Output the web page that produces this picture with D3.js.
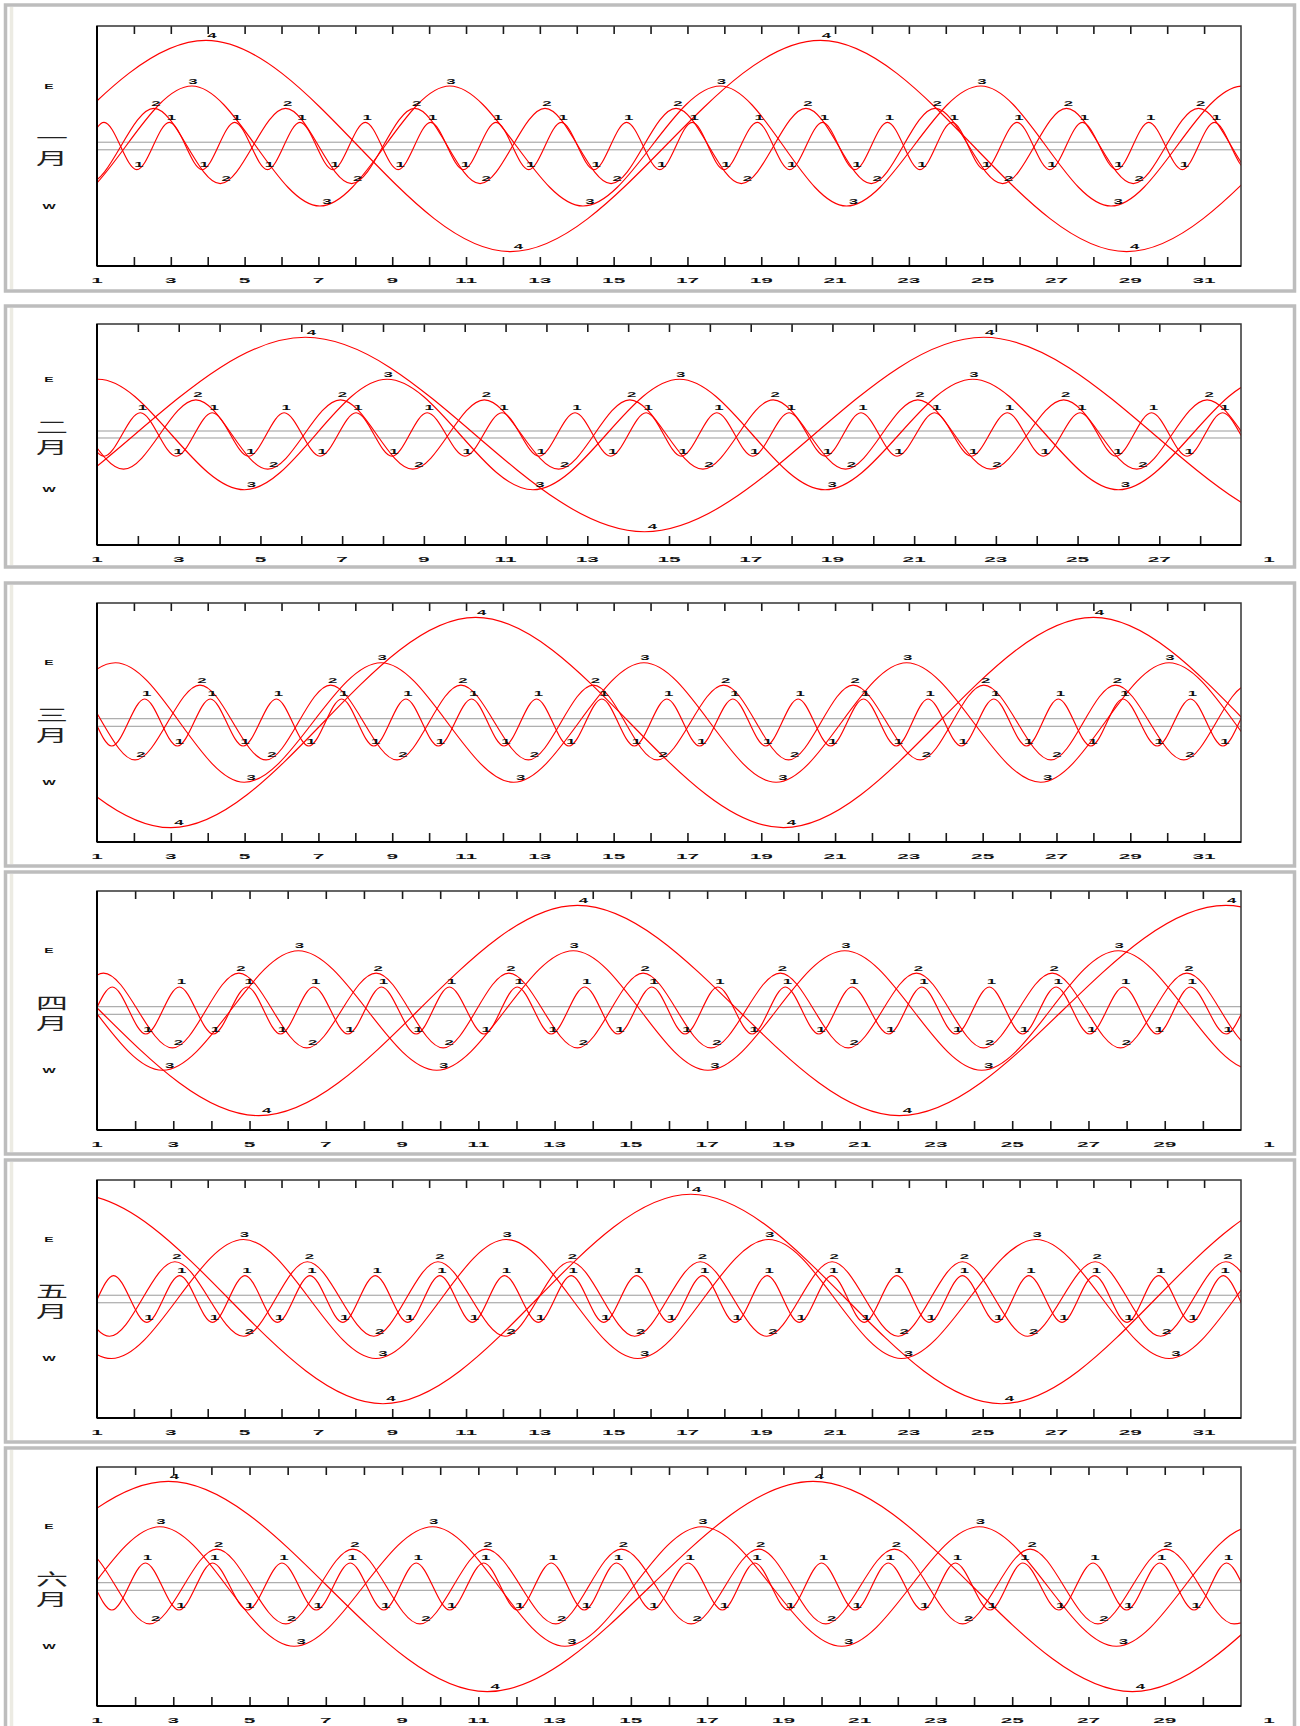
<!DOCTYPE html>
<html><head><meta charset="utf-8">
<script src="https://cdn.jsdelivr.net/npm/d3@7"></script>
<style>body{margin:0;background:#fff}svg{display:block}</style>
</head><body>
<svg id="c" width="1300" height="1726"></svg>
<script>
// ---------------- DATA ----------------
const MONTH_NAMES = ["一月","二月","三月","四月","五月","六月"];
const DAYS_IN_MONTH = [31, 28, 31, 30, 31, 30];
const MOON_LABELS = ["1","2","3","4"];
const MOON_AMPLITUDE = [5.9, 9.4, 15.0, 26.4];      // Jupiter radii
const Y_RANGE = [-30, 30];
const DISK_HALF = 0.95;
const SIDE_LABELS = [["E", 15], ["W", -15]];
const TICK_LABELS = [
  [1,3,5,7,9,11,13,15,17,19,21,23,25,27,29,31],
  [1,3,5,7,9,11,13,15,17,19,21,23,25,27],
  [1,3,5,7,9,11,13,15,17,19,21,23,25,27,29,31],
  [1,3,5,7,9,11,13,15,17,19,21,23,25,27,29],
  [1,3,5,7,9,11,13,15,17,19,21,23,25,27,29,31],
  [1,3,5,7,9,11,13,15,17,19,21,23,25,27,29]
];
const NEXT_MONTH_LABEL = ["", "1", "", "1", "", "1"];

// Extremum days (alternating E-max / W-min); *_FIRST = +1 if first is E max, -1 if W min
const IO_FIRST = [1, 1, 1, -1, -1, 1];
const IO_DAYS = [
  [-0.58,0.30,1.19,2.08,2.96,3.85,4.73,5.62,6.50,7.39,8.27,9.16,10.04,10.93,11.81,12.70,13.58,14.47,15.35,16.25,17.13,17.99,18.89,19.77,20.66,21.54,22.42,23.30,24.17,25.05,25.93,26.82,27.70,28.63,29.50,30.41,31.28,32.17],
  [0.29,1.17,2.06,2.94,3.82,4.71,5.58,6.46,7.34,8.22,9.08,10.01,10.91,11.82,12.70,13.57,14.44,15.30,16.17,17.05,17.94,18.83,19.70,20.58,21.50,22.40,23.28,24.16,25.06,25.94,26.81,27.68,28.55,29.43],
  [0.52,1.40,2.29,3.18,4.07,4.96,5.86,6.74,7.63,8.50,9.37,10.25,11.15,12.03,12.91,13.79,14.68,15.56,16.44,17.33,18.23,19.12,20.00,20.88,21.77,22.66,23.52,24.42,25.30,26.19,27.05,27.93,28.80,29.73,30.63,31.51,32.39],
  [0.52,1.40,2.28,3.16,4.05,4.94,5.81,6.68,7.58,8.46,9.37,10.24,11.15,12.02,12.91,13.79,14.66,15.55,16.42,17.28,18.18,19.05,19.93,20.80,21.76,22.63,23.52,24.40,25.27,26.15,27.03,27.92,28.80,29.67,30.61,31.49],
  [0.57,1.45,2.35,3.24,4.13,5.01,5.89,6.77,7.66,8.54,9.42,10.29,11.17,12.04,12.96,13.85,14.73,15.62,16.51,17.41,18.29,19.16,20.03,20.91,21.79,22.67,23.55,24.45,25.38,26.25,27.15,28.03,28.91,29.77,30.65,31.52,32.40],
  [0.50,1.39,2.27,3.15,4.03,4.95,5.85,6.75,7.64,8.52,9.37,10.25,11.14,12.03,12.91,13.78,14.62,15.55,16.50,17.40,18.25,19.13,20.00,20.88,21.75,22.65,23.51,24.42,25.28,26.22,27.12,28.00,28.87,29.77,30.62,31.50]
];
const EUROPA_FIRST = [1, 1, -1, -1, 1, -1];
const EUROPA_DAYS = [
  [-1.01,0.76,2.54,4.34,6.11,7.90,9.61,11.38,13.14,14.93,16.69,18.46,20.21,21.98,23.71,25.54,27.27,29.08,30.85,32.62],
  [-0.12,1.65,3.42,5.18,6.96,8.73,10.48,12.30,14.04,15.83,17.55,19.32,21.09,22.88,24.66,26.45,28.17,29.95],
  [-1.50,0.26,2.03,3.79,5.58,7.33,9.13,10.86,12.69,14.45,16.18,17.98,19.74,21.49,23.31,25.03,26.85,28.60,30.45,32.20],
  [-0.60,1.17,2.98,4.72,6.50,8.32,10.08,11.80,13.60,15.32,17.10,18.92,20.70,22.49,24.25,26.05,27.84,29.58,31.35],
  [-0.43,1.34,3.11,4.97,6.70,8.50,10.24,12.06,13.83,15.57,17.35,19.15,20.92,22.71,24.45,26.22,28.05,29.82,31.59,33.35],
  [-1.15,0.61,2.38,4.14,5.95,7.71,9.47,11.20,13.03,14.75,16.58,18.35,20.11,21.91,23.70,25.47,27.25,29.03,30.82]
];
const GANYMEDE_FIRST = [1, -1, -1, 1, 1, -1];
const GANYMEDE_DAYS = [
  [-3.55,0.00,3.57,7.04,10.56,14.17,17.89,21.31,24.95,28.48,32.05],
  [-2.55,1.03,4.61,8.10,11.67,15.26,18.82,22.44,26.00,29.60],
  [-2.10,1.50,4.99,8.70,12.29,15.82,19.40,22.94,26.57,30.05,33.60],
  [-0.85,2.72,6.28,9.91,13.49,17.02,20.61,24.20,27.78,31.35],
  [-2.20,1.39,4.97,8.56,12.09,15.65,19.20,22.80,26.45,30.05,33.60],
  [-0.90,2.65,6.17,9.80,13.27,16.86,20.53,24.14,27.73,31.30]
];
const CALLISTO_FIRST = [-1, -1, 1, 1, -1, -1];
const CALLISTO_DAYS = [
  [-4.40,3.95,12.20,20.60,28.90,37.20],
  [-2.25,6.10,14.40,22.70,31.05],
  [-5.30,3.00,11.26,19.60,28.00,36.30],
  [-3.10,5.24,13.60,22.04,30.60,38.90],
  [-7.95,0.40,8.75,17.09,25.51,33.85],
  [-5.50,2.87,11.23,19.78,28.15,36.50]
];

// ---------------- LAYOUT ----------------
const LAYOUT = [
  {top:5,    bottom:291,  plotTop:26,   plotBot:266},
  {top:306,  bottom:567,  plotTop:324,  plotBot:545},
  {top:583,  bottom:866,  plotTop:603,  plotBot:842},
  {top:872,  bottom:1154, plotTop:891,  plotBot:1130},
  {top:1160, bottom:1442, plotTop:1180, plotBot:1418},
  {top:1448, bottom:1736, plotTop:1467, plotBot:1706}
];
const PLOT_LEFT = 97, PLOT_RIGHT = 1241;
const LABEL_DX_MAX = [2, 2, 1, 6];
const LABEL_DX_MIN = [2, 6, 7, 8];

const MOONS = [
  {first: IO_FIRST, days: IO_DAYS},
  {first: EUROPA_FIRST, days: EUROPA_DAYS},
  {first: GANYMEDE_FIRST, days: GANYMEDE_DAYS},
  {first: CALLISTO_FIRST, days: CALLISTO_DAYS}
];

const svg = d3.select("#c");
const defs = svg.append("defs");

function squat(g, x, y, txt, sx, size) {
  g.append("text")
    .attr("transform", `translate(${x},${y}) scale(${sx},1)`)
    .attr("text-anchor", "middle")
    .attr("font-family", "'Liberation Sans', Arial, sans-serif")
    .attr("font-weight", "bold")
    .attr("font-size", size || 8)
    .attr("fill", "#111")
    .text(txt);
}

MONTH_NAMES.forEach((name, m) => {
  const L = LAYOUT[m];
  const nd = DAYS_IN_MONTH[m];
  const x = d3.scaleLinear().domain([1, nd + 1]).range([PLOT_LEFT, PLOT_RIGHT]);
  const y = d3.scaleLinear().domain(Y_RANGE).range([L.plotBot, L.plotTop]);
  const g = svg.append("g");

  // panel frame
  g.append("rect").attr("x", 5.5).attr("y", L.top).attr("width", 1289).attr("height", L.bottom - L.top)
    .attr("fill", "#fff").attr("stroke", "#bdbdbd").attr("stroke-width", 3.5);
  g.append("line").attr("x1", 11.5).attr("x2", 11.5).attr("y1", L.top + 2).attr("y2", L.bottom - 2)
    .attr("stroke", "#ecebe3").attr("stroke-width", 3.5);

  const clipId = "clip" + m;
  defs.append("clipPath").attr("id", clipId).append("rect")
    .attr("x", x(1)).attr("y", L.plotTop).attr("width", x(nd + 1) - x(1)).attr("height", L.plotBot - L.plotTop);

  // Jupiter disk band
  [DISK_HALF, -DISK_HALF].forEach(v => {
    g.append("line").attr("x1", x(1)).attr("x2", x(nd + 1)).attr("y1", y(v)).attr("y2", y(v))
      .attr("stroke", "#9a9a9a").attr("stroke-width", 1);
  });

  // curves
  const line = d3.line().x(d => x(d[0])).y(d => y(d[1])).curve(d3.curveMonotoneX);
  const labels = g.append("g");
  MOONS.forEach((moon, k) => {
    const days = moon.days[m];
    const s0 = moon.first[m];
    const amp = MOON_AMPLITUDE[k];
    const pts = days.map((t, i) => [t, (i % 2 === 0 ? s0 : -s0) * amp]);
    const a = pts[0], b = pts[1], c = pts[pts.length - 1], dd = pts[pts.length - 2];
    const padded = [[2 * a[0] - b[0], b[1]], ...pts, [2 * c[0] - dd[0], dd[1]]];
    g.append("path").attr("d", line(padded)).attr("fill", "none")
      .attr("stroke", "#ff0000").attr("stroke-width", 1.15)
      .attr("clip-path", `url(#${clipId})`);
    pts.forEach(p => {
      if (p[0] >= 1.95 && p[0] < nd + 0.75) {
        const dx = p[1] > 0 ? LABEL_DX_MAX[k] : LABEL_DX_MIN[k];
        squat(labels, x(p[0]) + dx, y(p[1]) - 2.5, MOON_LABELS[k], 2.1, 8);
      }
    });
  });
  labels.raise();

  // ticks
  const days = d3.range(2, nd + 1);
  const topAxis = d3.axisTop(x).tickValues(days).tickSize(-8).tickFormat("");
  const botAxis = d3.axisBottom(x).tickValues(days).tickSize(-9).tickFormat("");
  const ta = g.append("g").attr("transform", `translate(0,${L.plotTop})`).call(topAxis);
  const ba = g.append("g").attr("transform", `translate(0,${L.plotBot})`).call(botAxis);
  [ta, ba].forEach(a => {
    a.select(".domain").remove();
    a.selectAll(".tick line").attr("stroke", "#1a1a1a").attr("stroke-width", 1.6);
  });

  // box
  g.append("rect").attr("x", x(1)).attr("y", L.plotTop).attr("width", x(nd + 1) - x(1)).attr("height", L.plotBot - L.plotTop)
    .attr("fill", "none").attr("stroke", "#333").attr("stroke-width", 1.5);
  g.append("line").attr("x1", x(1)).attr("x2", x(1)).attr("y1", L.plotTop).attr("y2", L.plotBot)
    .attr("stroke", "#000").attr("stroke-width", 2);
  g.append("line").attr("x1", x(1)).attr("x2", x(nd + 1)).attr("y1", L.plotBot).attr("y2", L.plotBot)
    .attr("stroke", "#000").attr("stroke-width", 2);

  // tick labels
  TICK_LABELS[m].forEach(d => squat(g, x(d), L.plotBot + 16.5, String(d), 2.6, 8));
  if (NEXT_MONTH_LABEL[m]) squat(g, x(nd + 1) + 28, L.plotBot + 16.5, NEXT_MONTH_LABEL[m], 2.6, 8);

  // E / W
  SIDE_LABELS.forEach(([t, v]) => squat(g, 49, y(v) + 2.5, t, 2.0, 7));

  // month name (stacked)
  const cy = (L.plotTop + L.plotBot) / 2;
  [...name].forEach((ch, i) => {
    g.append("text")
      .attr("transform", `translate(52,${cy + (i === 0 ? -9 : 11)}) scale(1.6,0.82)`)
      .attr("text-anchor", "middle").attr("dominant-baseline", "central")
      .attr("font-family", "'Noto Sans CJK SC', sans-serif")
      .attr("font-size", 20).attr("fill", "#222")
      .text(ch);
  });
});
</script>
</body></html>
